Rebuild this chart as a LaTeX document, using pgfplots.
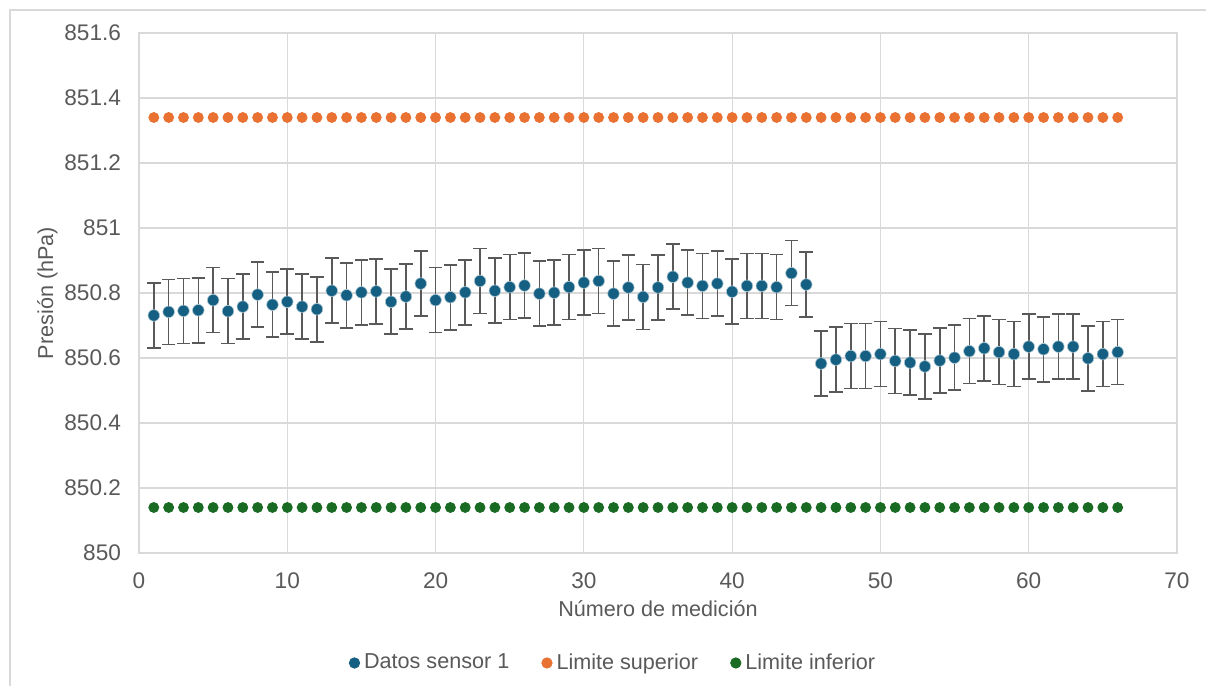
\documentclass[border=0pt]{standalone}
\usepackage{pgfplots}
\pgfplotsset{compat=1.18}
\usepackage{fontspec}
\setmainfont{Liberation Sans}
\definecolor{cblue}{HTML}{156082}
\definecolor{corange}{HTML}{E97132}
\definecolor{cgreen}{HTML}{196B24}
\definecolor{cgrid}{HTML}{D9D9D9}
\definecolor{ctext}{HTML}{595959}
\begin{document}
\begin{tikzpicture}
\useasboundingbox (0,0) rectangle (603pt,343pt);
\draw[cgrid, line width=0.6pt] (5pt,0) -- (5pt,338pt) -- (604pt,338pt);
\begin{axis}[
  at={(69.5pt,66.5pt)}, anchor=south west,
  scale only axis, width=519pt, height=260pt,
  xmin=0, xmax=70, ymin=850, ymax=851.6,
  xtick={0,10,...,70}, ytick={850,850.2,...,851.6},
  grid=major, major grid style={cgrid, line width=0.6pt},
  axis line style={cgrid, line width=0.6pt},
  major tick length=0pt,
  /pgf/number format/assume math mode=true,
  /pgf/number format/.cd, fixed, precision=1, use period, 1000 sep={},
  /pgfplots/.cd,
  tick label style={font=\fontsize{11.3}{13}\selectfont, text=ctext},
  yticklabel style={xshift=-5.5pt},
  xticklabel style={yshift=-6.5pt},
  label style={font=\fontsize{10.8}{13}\selectfont, text=ctext},
  xlabel={Número de medición},
  ylabel={Presión (hPa)},
  xlabel style={yshift=1pt},
  ylabel style={yshift=-3.5pt},
  legend columns=3,
  legend style={at={(0.4576,-0.2115)}, anchor=center, draw=none, fill=none,
    font=\fontsize{10.8}{13}\selectfont, text=ctext,
    /tikz/every even column/.append style={column sep=14pt}},
  legend image code/.code={\filldraw[#1] (0pt,0pt) circle (2.6pt);},
]
\addplot[only marks, mark=*, mark size=2.9pt, color=cblue, mark options={draw=cblue!35!white, line width=0.3pt, fill=cblue},
  error bars/.cd, y dir=both, y explicit, error mark=-, error mark options={rotate=90, mark size=3.4pt, line width=0.8pt, ctext},
  error bar style={line width=0.8pt, ctext}]
table[x=x, y=y, y error=e] {
x y e
1 850.731 0.1
2 850.742 0.1
3 850.745 0.1
4 850.747 0.1
5 850.778 0.1
6 850.744 0.1
7 850.758 0.1
8 850.795 0.1
9 850.764 0.1
10 850.773 0.1
11 850.758 0.1
12 850.750 0.1
13 850.807 0.1
14 850.793 0.1
15 850.802 0.1
16 850.805 0.1
17 850.773 0.1
18 850.789 0.1
19 850.829 0.1
20 850.778 0.1
21 850.787 0.1
22 850.802 0.1
23 850.837 0.1
24 850.807 0.1
25 850.818 0.1
26 850.823 0.1
27 850.798 0.1
28 850.801 0.1
29 850.818 0.1
30 850.832 0.1
31 850.837 0.1
32 850.798 0.1
33 850.817 0.1
34 850.788 0.1
35 850.817 0.1
36 850.850 0.1
37 850.832 0.1
38 850.822 0.1
39 850.829 0.1
40 850.804 0.1
41 850.822 0.1
42 850.822 0.1
43 850.818 0.1
44 850.861 0.1
45 850.826 0.1
46 850.583 0.1
47 850.595 0.1
48 850.606 0.1
49 850.606 0.1
50 850.612 0.1
51 850.591 0.1
52 850.586 0.1
53 850.574 0.1
54 850.592 0.1
55 850.601 0.1
56 850.621 0.1
57 850.630 0.1
58 850.618 0.1
59 850.612 0.1
60 850.635 0.1
61 850.627 0.1
62 850.635 0.1
63 850.635 0.1
64 850.599 0.1
65 850.612 0.1
66 850.618 0.1
};
\addlegendentry{Datos sensor 1}
\addplot[only marks, mark=*, mark size=2.5pt, color=corange] table {
1 851.34
2 851.34
3 851.34
4 851.34
5 851.34
6 851.34
7 851.34
8 851.34
9 851.34
10 851.34
11 851.34
12 851.34
13 851.34
14 851.34
15 851.34
16 851.34
17 851.34
18 851.34
19 851.34
20 851.34
21 851.34
22 851.34
23 851.34
24 851.34
25 851.34
26 851.34
27 851.34
28 851.34
29 851.34
30 851.34
31 851.34
32 851.34
33 851.34
34 851.34
35 851.34
36 851.34
37 851.34
38 851.34
39 851.34
40 851.34
41 851.34
42 851.34
43 851.34
44 851.34
45 851.34
46 851.34
47 851.34
48 851.34
49 851.34
50 851.34
51 851.34
52 851.34
53 851.34
54 851.34
55 851.34
56 851.34
57 851.34
58 851.34
59 851.34
60 851.34
61 851.34
62 851.34
63 851.34
64 851.34
65 851.34
66 851.34
};
\addlegendentry{Limite superior}
\addplot[only marks, mark=*, mark size=2.5pt, color=cgreen] table {
1 850.14
2 850.14
3 850.14
4 850.14
5 850.14
6 850.14
7 850.14
8 850.14
9 850.14
10 850.14
11 850.14
12 850.14
13 850.14
14 850.14
15 850.14
16 850.14
17 850.14
18 850.14
19 850.14
20 850.14
21 850.14
22 850.14
23 850.14
24 850.14
25 850.14
26 850.14
27 850.14
28 850.14
29 850.14
30 850.14
31 850.14
32 850.14
33 850.14
34 850.14
35 850.14
36 850.14
37 850.14
38 850.14
39 850.14
40 850.14
41 850.14
42 850.14
43 850.14
44 850.14
45 850.14
46 850.14
47 850.14
48 850.14
49 850.14
50 850.14
51 850.14
52 850.14
53 850.14
54 850.14
55 850.14
56 850.14
57 850.14
58 850.14
59 850.14
60 850.14
61 850.14
62 850.14
63 850.14
64 850.14
65 850.14
66 850.14
};
\addlegendentry{Limite inferior}
\end{axis}
\end{tikzpicture}
\end{document}
